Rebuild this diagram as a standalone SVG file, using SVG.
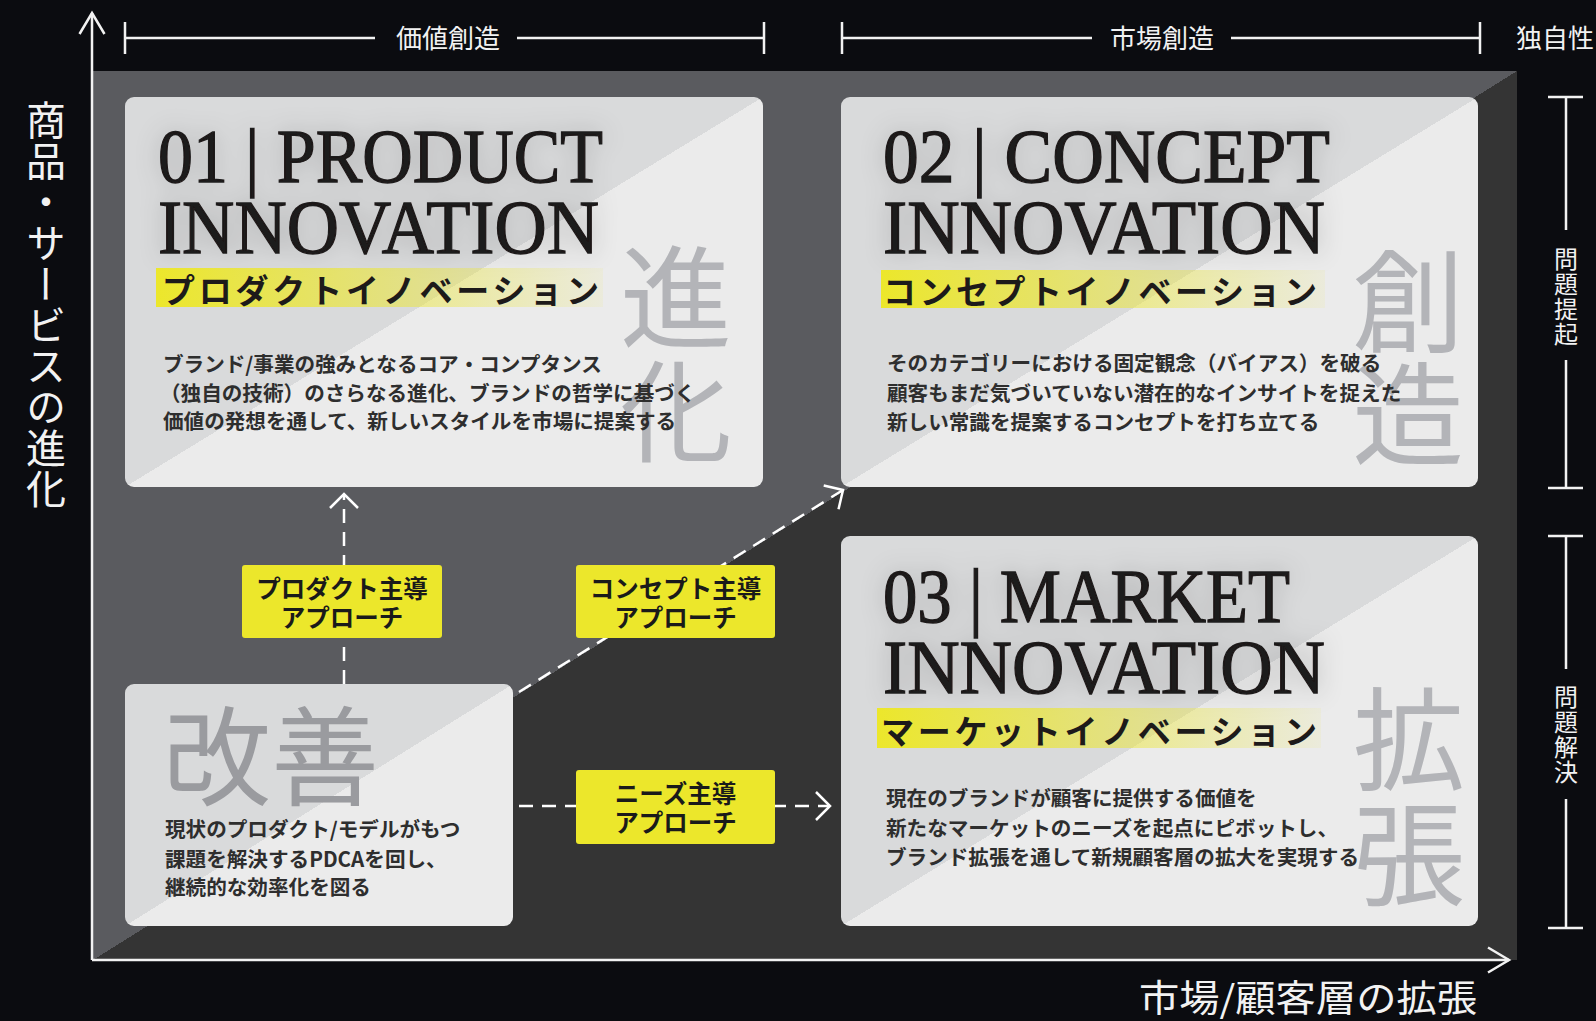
<svg xmlns="http://www.w3.org/2000/svg" width="1596" height="1021" viewBox="0 0 1596 1021">
<defs>
<style>
.jp{font-family:"Noto Sans CJK JP","Noto Sans",sans-serif}
.head{font-family:"Liberation Serif",serif;font-size:76px;fill:#1d1a1a;stroke:#1d1a1a;stroke-width:1.3px}
.kata{font-family:"Noto Sans CJK JP",sans-serif;font-size:33px;font-weight:700;fill:#1d1a1a}
.body{font-family:"Noto Sans CJK JP",sans-serif;font-size:20.6px;font-weight:700;fill:#2e2e2e}
.wm{font-family:"Noto Sans CJK JP",sans-serif;font-size:112px;fill:#b3b4b8;text-anchor:middle}
.lbl{font-family:"Noto Sans CJK JP",sans-serif;font-size:24.5px;font-weight:700;fill:#1a1a1a;text-anchor:middle}
.wt{font-family:"Noto Sans CJK JP",sans-serif;fill:#f2f2f2}
.vert{writing-mode:vertical-rl}
.ln{stroke:#f2f2f2;stroke-width:2.5;fill:none}
.dash{stroke:#ffffff;stroke-width:2.5;stroke-dasharray:14 9;fill:none}
.card{fill:url(#cardFill)}
.ylw{fill:#ece72b}
</style>
<linearGradient id="panelFill" x1="0" y1="0" x2="1" y2="1">
<stop offset="0.5" stop-color="#5a5b5f"/><stop offset="0.5" stop-color="#343434"/>
</linearGradient>
<linearGradient id="cardFill" x1="0" y1="0" x2="1" y2="1">
<stop offset="0.5" stop-color="#d9dadb"/><stop offset="0.5" stop-color="#ebebeb"/>
</linearGradient>
<linearGradient id="hl" x1="0" y1="0" x2="1" y2="0">
<stop offset="0" stop-color="#ece72b" stop-opacity="1"/><stop offset="1" stop-color="#ece72b" stop-opacity="0.08"/>
</linearGradient>
<filter id="glow" x="-20%" y="-40%" width="140%" height="180%">
<feGaussianBlur in="SourceAlpha" stdDeviation="12" result="b"/>
<feFlood flood-color="#000" flood-opacity="0.22"/>
<feComposite in2="b" operator="in"/>
<feMerge><feMergeNode/><feMergeNode in="SourceGraphic"/></feMerge>
</filter>
<marker id="chev" markerUnits="userSpaceOnUse" markerWidth="40" markerHeight="40" viewBox="-20 -20 40 40" refX="0" refY="0" orient="auto">
<path d="M-14,-14 L0,0 L-14,14" fill="none" stroke="#fff" stroke-width="2.5"/>
</marker>
<marker id="axarr" markerUnits="userSpaceOnUse" markerWidth="50" markerHeight="50" viewBox="-25 -25 50 50" refX="0" refY="0" orient="auto">
<path d="M-21,-12.5 L0,0 L-21,12.5" fill="none" stroke="#f2f2f2" stroke-width="2.5"/>
</marker>
</defs>

<rect width="1596" height="1021" fill="#0b0c10"/>

<g id="panel">
<rect x="93" y="71" width="1424" height="889" fill="url(#panelFill)"/>
</g>

<g id="axes">
<line class="ln" x1="92" y1="960" x2="92" y2="13" marker-end="url(#axarr)"/>
<line class="ln" x1="92" y1="960" x2="1509" y2="960" marker-end="url(#axarr)"/>
<text class="wt vert" x="46" y="100" style="font-size:40px;letter-spacing:1px">商品・サービスの進化</text>
<text class="wt" x="1139" y="1012" style="font-size:37px" textLength="338" lengthAdjust="spacingAndGlyphs">市場/顧客層の拡張</text>
</g>

<g id="top-brackets">
<path class="ln" d="M125,22 V54 M125,38 H375 M517,38 H764 M764,22 V54"/>
<text class="wt" x="448" y="48" style="font-size:26px" text-anchor="middle">価値創造</text>
<path class="ln" d="M842,22 V54 M842,38 H1092 M1231,38 H1480 M1480,22 V54"/>
<text class="wt" x="1162" y="48" style="font-size:26px" text-anchor="middle">市場創造</text>
<text class="wt" x="1516" y="48" style="font-size:26px">独自性</text>
</g>

<g id="right-brackets">
<path class="ln" d="M1548,97 H1583 M1566,97 V230 M1566,360 V488 M1548,488 H1583"/>
<text class="wt vert" x="1566" y="247" style="font-size:24px;letter-spacing:1px">問題提起</text>
<path class="ln" d="M1548,536 H1583 M1566,536 V669 M1566,799 V928 M1548,928 H1583"/>
<text class="wt vert" x="1566" y="685" style="font-size:24px;letter-spacing:1px">問題解決</text>
</g>

<g id="connectors">
<line class="dash" x1="344" y1="684" x2="344" y2="494" marker-end="url(#chev)"/>
<line class="dash" x1="519" y1="692" x2="843" y2="490" marker-end="url(#chev)"/>
<line class="dash" x1="519" y1="806" x2="830" y2="806" marker-end="url(#chev)"/>
</g>

<g id="node-product">
<rect class="card" x="125" y="97" width="638" height="390" rx="9"/>
<text class="wm" x="676" y="340">進</text>
<text class="wm" x="676" y="454">化</text>
<g filter="url(#glow)">
<text class="head" x="158" y="182" textLength="445" lengthAdjust="spacingAndGlyphs">01 | PRODUCT</text>
<text class="head" x="158" y="253" textLength="441" lengthAdjust="spacingAndGlyphs">INNOVATION</text>
</g>
<rect x="156" y="268" width="447" height="39" fill="url(#hl)"/>
<text class="kata" x="162" y="302.5" textLength="437" lengthAdjust="spacing">プロダクトイノベーション</text>
<text class="body" x="163" y="372">ブランド/事業の強みとなるコア・コンプタンス</text>
<text class="body" x="160" y="401">（独自の技術）のさらなる進化、ブランドの哲学に基づく</text>
<text class="body" x="163" y="429">価値の発想を通して、新しいスタイルを市場に提案する</text>
</g>

<g id="node-concept">
<rect class="card" x="841" y="97" width="637" height="390" rx="9"/>
<text class="wm" x="1408" y="344">創</text>
<text class="wm" x="1408" y="457">造</text>
<g filter="url(#glow)">
<text class="head" x="883" y="182" textLength="447" lengthAdjust="spacingAndGlyphs">02 | CONCEPT</text>
<text class="head" x="883" y="253" textLength="442" lengthAdjust="spacingAndGlyphs">INNOVATION</text>
</g>
<rect x="881" y="270" width="444" height="38" fill="url(#hl)"/>
<text class="kata" x="883" y="304" textLength="434" lengthAdjust="spacing">コンセプトイノベーション</text>
<text class="body" x="887" y="371">そのカテゴリーにおける固定観念（バイアス）を破る</text>
<text class="body" x="887" y="401">顧客もまだ気づいていない潜在的なインサイトを捉えた</text>
<text class="body" x="887" y="430">新しい常識を提案するコンセプトを打ち立てる</text>
</g>

<g id="node-market">
<rect class="card" x="841" y="536" width="637" height="390" rx="9"/>
<text class="wm" x="1409" y="782">拡</text>
<text class="wm" x="1409" y="897">張</text>
<g filter="url(#glow)">
<text class="head" x="883" y="622" textLength="407" lengthAdjust="spacingAndGlyphs">03 | MARKET</text>
<text class="head" x="883" y="693" textLength="442" lengthAdjust="spacingAndGlyphs">INNOVATION</text>
</g>
<rect x="877" y="708" width="444" height="40" fill="url(#hl)"/>
<text class="kata" x="881" y="743.5" textLength="436" lengthAdjust="spacing">マーケットイノベーション</text>
<text class="body" x="886" y="806">現在のブランドが顧客に提供する価値を</text>
<text class="body" x="886" y="836">新たなマーケットのニーズを起点にピボットし、</text>
<text class="body" x="886" y="865">ブランド拡張を通して新規顧客層の拡大を実現する</text>
</g>

<g id="node-kaizen">
<rect class="card" x="125" y="684" width="388" height="242" rx="9"/>
<text class="jp" x="163" y="797" style="font-size:108px;fill:#9a9b9f">改善</text>
<text class="body" x="165" y="837">現状のプロダクト/モデルがもつ</text>
<text class="body" x="165" y="867">課題を解決するPDCAを回し、</text>
<text class="body" x="165" y="895">継続的な効率化を図る</text>
</g>

<g id="label-product">
<rect class="ylw" x="242" y="565" width="200" height="73" rx="3"/>
<text class="lbl" x="342" y="597.5">プロダクト主導</text>
<text class="lbl" x="342" y="626.5">アプローチ</text>
</g>
<g id="label-concept">
<rect class="ylw" x="576" y="565" width="199" height="73" rx="3"/>
<text class="lbl" x="675.5" y="597.5">コンセプト主導</text>
<text class="lbl" x="675.5" y="626.5">アプローチ</text>
</g>
<g id="label-needs">
<rect class="ylw" x="576" y="770" width="199" height="74" rx="3"/>
<text class="lbl" x="675.5" y="802.5">ニーズ主導</text>
<text class="lbl" x="675.5" y="831.5">アプローチ</text>
</g>
</svg>
